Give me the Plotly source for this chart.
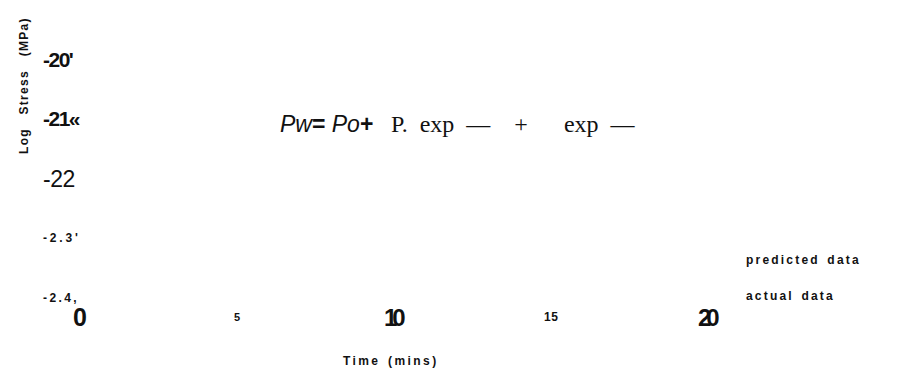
import plotly.graph_objects as go

# Axis ticks (values and the label text as printed in the figure)
x_tick_vals = [0, 5, 10, 15, 20]
x_tick_text = ["0", "5", "10", "15", "20"]
x_tick_size = [25, 11, 24, 12, 24]
x_tick_spacing = [0, 0, -5, 0.5, -5]

y_tick_vals = [-2.0, -2.1, -2.2, -2.3, -2.4]
y_tick_text = ["-20'", "-21«", "-22", "-2.3'", "-2.4,"]
y_tick_size = [21, 21, 23, 12, 12]
y_tick_bold = [True, True, False, True, True]
y_tick_spacing = [-1.5, -1.5, -0.5, 2.8, 2.4]

legend_names = ["predicted data", "actual data"]

x_title = "Time (mins)"
y_title = "Log Stress (MPa)"

W, H = 906, 372
SANS = "Liberation Sans, Arial, sans-serif"
SERIF = "Liberation Serif, Times New Roman, serif"

fig = go.Figure()
# invisible trace to hold the axes
fig.add_trace(go.Scatter(x=[], y=[], mode="markers", showlegend=False))

ann = []
for v, t, s, ls in zip(x_tick_vals, x_tick_text, x_tick_size, x_tick_spacing):
    ann.append(dict(x=v, y=(H - 309) / H, xref="x", yref="paper",
                    text=f"<b><span style='letter-spacing:{ls}px'>{t}</span></b>",
                    showarrow=False, xanchor="center", yanchor="middle",
                    font=dict(family=SANS, size=s, color="#111")))
for v, t, s, b, ls in zip(y_tick_vals, y_tick_text, y_tick_size, y_tick_bold, y_tick_spacing):
    inner = f"<span style='letter-spacing:{ls}px'>{t}</span>"
    txt = f"<b>{inner}</b>" if b else inner
    ann.append(dict(x=33 / W, y=v, xref="paper", yref="y", text=txt,
                    showarrow=False, xanchor="left", yanchor="middle",
                    font=dict(family=SANS, size=s, color="#111")))

# legend labels (no symbols visible)
for i, name in enumerate(legend_names):
    ann.append(dict(x=736 / W, y=(H - (252 + 36 * i)) / H, xref="paper", yref="paper",
                    text=f"<b><span style='letter-spacing:2.2px;word-spacing:2px'>{name}</span></b>",
                    showarrow=False, xanchor="left", yanchor="middle",
                    font=dict(family=SANS, size=12, color="#111")))

# axis titles
ann.append(dict(x=383 / W, y=(H - 353) / H, xref="paper", yref="paper",
                text=f"<b><span style='letter-spacing:2.4px;word-spacing:2px'>{x_title}</span></b>",
                showarrow=False, xanchor="center", yanchor="middle",
                font=dict(family=SANS, size=12, color="#111")))
ann.append(dict(x=16 / W, y=(H - 78) / H, xref="paper", yref="paper",
                text=f"<b><span style='letter-spacing:1.3px;word-spacing:9px'>{y_title}</span></b>",
                showarrow=False, xanchor="center", yanchor="middle", textangle=-90,
                font=dict(family=SANS, size=12, color="#111")))

# equation
ann.append(dict(x=270 / W, y=(H - 116) / H, xref="paper", yref="paper",
                text="<i>Pw</i><b>=</b> <i>Po</i><b>+</b>",
                showarrow=False, xanchor="left", yanchor="middle",
                font=dict(family=SANS, size=23, color="#111")))
ann.append(dict(x=381 / W, y=(H - 116) / H, xref="paper", yref="paper",
                text="<span style='word-spacing:6px'>P. exp —  +   exp —</span>",
                showarrow=False, xanchor="left", yanchor="middle",
                font=dict(family=SERIF, size=24, color="#111")))

px_per_x = (700 - 72) / 20.0
px_per_y = (290 - 51) / 0.4
fig.update_layout(
    width=W, height=H,
    margin=dict(l=0, r=0, t=0, b=0),
    paper_bgcolor="white", plot_bgcolor="white",
    xaxis=dict(range=[-72 / px_per_x, (W - 72) / px_per_x], visible=False, fixedrange=True),
    yaxis=dict(range=[-2.0 - (H - 51) / px_per_y, -2.0 + 51 / px_per_y], visible=False, fixedrange=True),
    annotations=ann,
    showlegend=False,
)

fig.write_html("out.html")
